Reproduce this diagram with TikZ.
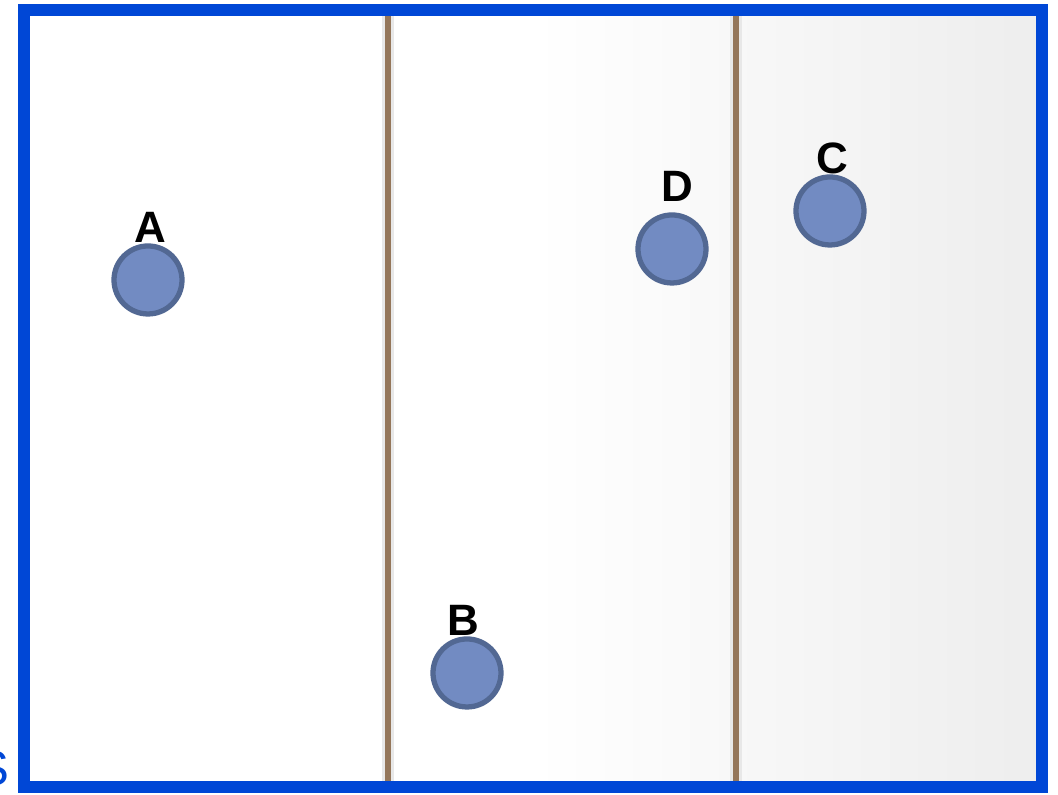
\documentclass[tikz,border=0pt]{standalone}
\usepackage{fontspec}
\setmainfont{Liberation Sans}
\usetikzlibrary{positioning}
\definecolor{cframe}{HTML}{0047D6}
\definecolor{cwall}{HTML}{94765A}
\definecolor{cdot}{HTML}{728BC2}
\definecolor{cdotrim}{HTML}{526893}
\tikzset{
  station/.style={circle, draw=cdotrim, fill=cdot, line width=1.5pt,
    minimum size=0.68cm, inner sep=0pt},
  tag/.style={font=\fontsize{12.5}{14}\selectfont\bfseries, inner sep=0pt},
  wall/.style={cwall, line width=1.7pt},
  wallshade/.style={black!9, line width=3.6pt}
}
\begin{document}
\begin{tikzpicture}
    \useasboundingbox (0,0) rectangle (10.58,7.95);
    \clip (0,0) rectangle (10.58,7.95);
    % background
    \shade[left color=white, right color=black!7, middle color=white] (0.24,0.08) rectangle (10.42,7.85);
    % walls
    \coordinate (w1top) at (3.88,7.85);
    \coordinate (w1bot) at (3.88,0.08);
    \coordinate (w2top) at (7.36,7.85);
    \coordinate (w2bot) at (7.36,0.08);
    \draw[wallshade] (w1top) -- (w1bot);
    \draw[wallshade] (w2top) -- (w2bot);
    \draw[wall] (w1top) -- (w1bot);
    \draw[wall] (w2top) -- (w2bot);
    % frame
    \draw[cframe, line width=3.4pt] (0.24,0.08) rectangle (10.42,7.85);
    \node[anchor=east, text=cframe, font=\fontsize{14}{16}\selectfont,
      inner sep=0pt] (side) at (0.10,0.26) {S};

    \node[station] (a) at (1.48,5.15) {};
    \node[station] (b) at (4.67,1.22) {};
    \node[station] (c) at (8.30,5.84) {};
    \node[station] (d) at (6.72,5.46) {};

    \node[tag, above=0.0cm of a, xshift=0.02cm] (la) {A};
    \node[tag, above=0.0cm of b, xshift=-0.04cm] (lb) {B};
    \node[tag, above=0.0cm of c, xshift=0.02cm] (lc) {C};
    \node[tag, above=0.1cm of d, xshift=0.05cm] (ld) {D};
  \end{tikzpicture}
\end{document}
